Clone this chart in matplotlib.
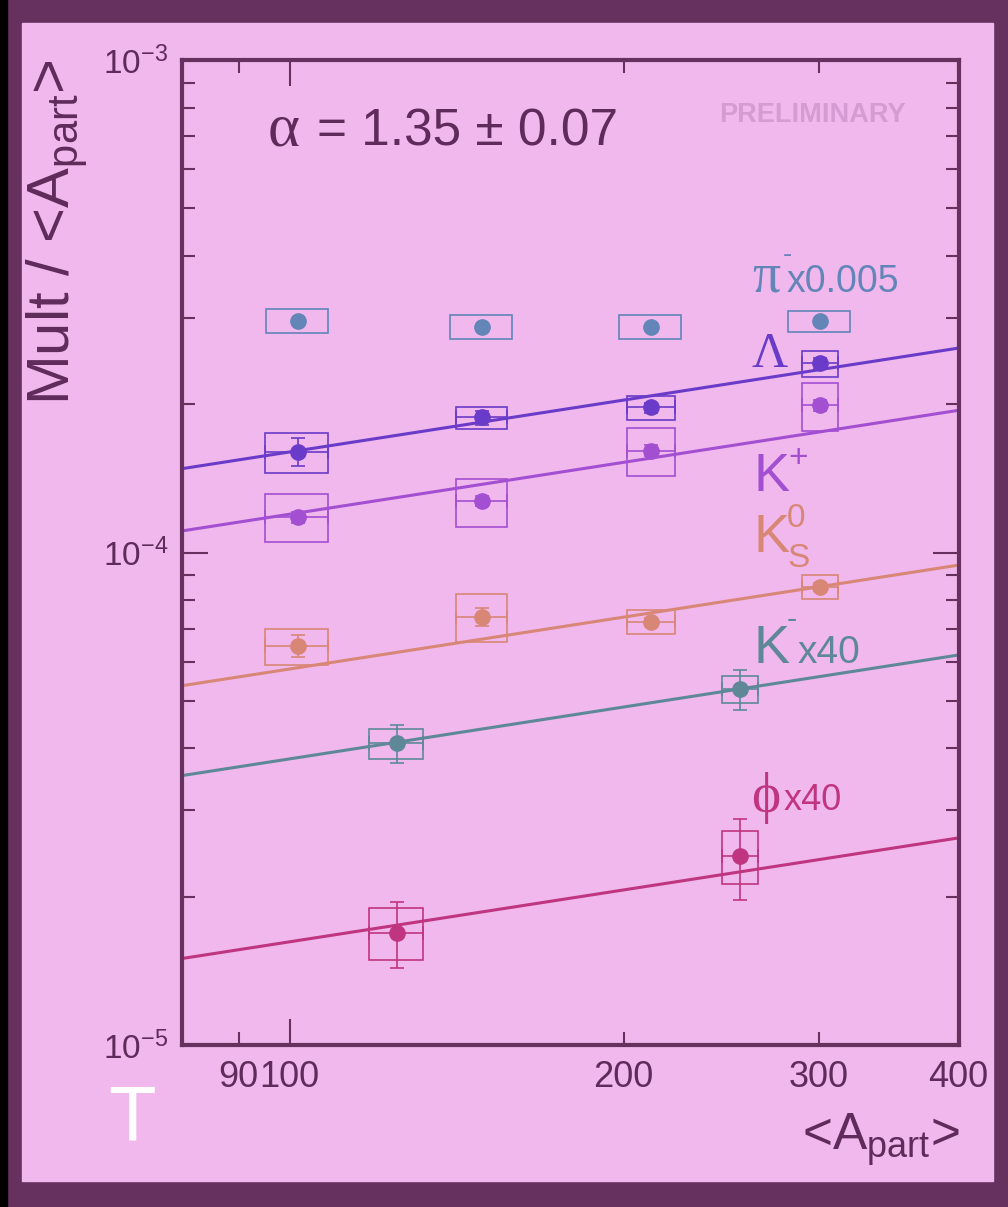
import matplotlib
matplotlib.use("Agg")
import matplotlib.pyplot as plt
from matplotlib.patches import Rectangle
import numpy as np

plt.rcParams['font.family'] = ['Liberation Sans', 'DejaVu Sans']
plt.rcParams['mathtext.default'] = 'regular'

# centrality points (A_part) and their uncertainty
apart4 = [101.7, 149.1, 211.8, 300.6]
apart4_err = [6.6, 8.0, 10.5, 11.2]
apart2 = [125.0, 254.8]
apart2_err = [7.0, 9.5]

# multiplicity / <A_part>
pim = [2.95e-4, 2.87e-4, 2.87e-4, 2.95e-4]
pim_stat = [3e-6, 3e-6, 3e-6, 3e-6]
pim_sys = [1.65e-5, 1.6e-5, 1.6e-5, 1.5e-5]

lam = [1.60e-4, 1.88e-4, 1.97e-4, 2.42e-4]
lam_stat = [1.05e-5, 6.1e-6, 4.6e-6, 5.7e-6]
lam_sys = [1.5e-5, 9.7e-6, 1.1e-5, 1.47e-5]

kp = [1.18e-4, 1.27e-4, 1.61e-4, 1.99e-4]
kp_stat = [3e-6, 3e-6, 4e-6, 5e-6]
kp_sys = [1.32e-5, 1.42e-5, 1.8e-5, 2.23e-5]

k0s = [6.46e-5, 7.40e-5, 7.23e-5, 8.51e-5]
k0s_stat = [3.3e-6, 3.1e-6, 1.4e-6, 1.6e-6]
k0s_sys = [5.4e-6, 8.3e-6, 4.1e-6, 4.8e-6]

km = [4.10e-5, 5.28e-5]
km_stat = [3.6e-6, 4.9e-6]
km_sys = [2.9e-6, 3.3e-6]

phi = [1.69e-5, 2.42e-5]
phi_stat = [2.6e-6, 4.5e-6]
phi_sys = [2.05e-6, 2.94e-6]

# power law fits: N * (A/100)^(alpha-1)
alpha = 1.35
fit_norm = {'lam': 1.60e-4, 'kp': 1.196e-4, 'k0s': 5.80e-5, 'km': 3.81e-5, 'phi': 1.62e-5}

W, H = 1008, 1207
dark = '#66305f'
pink = '#f0b8ec'
txt = '#5e2b5a'

fig = plt.figure(figsize=(W / 100, H / 100), dpi=100, facecolor=dark)
fig.patches.append(Rectangle((0, 0), 7 / W, 1, transform=fig.transFigure, color='black', zorder=-10))
fig.patches.append(Rectangle((22 / W, 1 - 1181 / H), (993 - 22) / W, (1181 - 23) / H,
                             transform=fig.transFigure, color=pink, zorder=-10))

ax = fig.add_axes([182 / W, 1 - 1045 / H, (959 - 182) / W, (1045 - 60) / H])
ax.set_zorder(1)
ax.set_facecolor(pink)
ax.set_xscale('log')
ax.set_yscale('log')
ax.set_xlim(80, 401)
ax.set_ylim(1e-5, 1e-3)

def draw(x, y, xerr, stat, sys, col, fitkey=None):
    for xi, yi, xe, se in zip(x, y, xerr, sys):
        if xe == 0:
            xe = xi * 0.064
        ax.add_patch(Rectangle((xi - xe, yi - se), 2 * xe, 2 * se, fill=False,
                               edgecolor=col, lw=1.2, zorder=3))
    ax.errorbar(x, y, xerr=xerr, yerr=stat, fmt='o', color=col, ms=11, elinewidth=1.2,
                capsize=5, capthick=1.2, zorder=4)
    if fitkey:
        xx = np.array([80, 401])
        ax.plot(xx, fit_norm[fitkey] * (xx / 100) ** (alpha - 1), color=col, lw=2.2, zorder=2)

c_pi = '#6385b8'
c_lam = '#6a3bc8'
c_kp = '#a24fd2'
c_k0 = '#d88676'
c_km = '#5e8898'
c_phi = '#c0357f'

draw(apart4, pim, [0] * 4, pim_stat, pim_sys, c_pi)
draw(apart4, lam, apart4_err, lam_stat, lam_sys, c_lam, 'lam')
draw(apart4, kp, apart4_err, kp_stat, kp_sys, c_kp, 'kp')
draw(apart4, k0s, apart4_err, k0s_stat, k0s_sys, c_k0, 'k0s')
draw(apart2, km, apart2_err, km_stat, km_sys, c_km, 'km')
draw(apart2, phi, apart2_err, phi_stat, phi_sys, c_phi, 'phi')

# axes styling
for s in ax.spines.values():
    s.set_color(dark)
    s.set_linewidth(3)
ax.set_xticks([100])
ax.set_xticklabels(['100'])
ax.set_xticks([90, 200, 300, 400], minor=True)
ax.set_xticklabels(['90', '200', '300', '400'], minor=True)
ax.set_yticks([1e-5, 1e-4, 1e-3])
ax.set_yticklabels([r'$10^{-5}$', r'$10^{-4}$', r'$10^{-3}$'])
ax.set_yticks([m * 10.0 ** e for e in (-5, -4) for m in range(2, 10)], minor=True)
ax.set_yticklabels([], minor=True)
ax.tick_params(which='both', direction='in', top=True, right=True, color=dark, width=1.5,
               labelcolor=txt)
ax.tick_params(which='major', length=19)
ax.tick_params(which='minor', length=9.5)
ax.tick_params(axis='x', which='both', labelsize=26, pad=11)
ax.tick_params(axis='y', which='both', labelsize=24, pad=10)

def ftext(px, py, s, **kw):
    return fig.text(px / W, 1 - py / H, s, zorder=5, **kw)

ftext(70, 232, r'Mult / <A$_{part}$>', rotation=90, rotation_mode='anchor', ha='center',
      va='baseline', fontsize=43, color=txt)
ftext(960, 1150, r'<A$_{part}$>', ha='right', va='baseline', fontsize=37, color=txt)
ftext(268, 145, 'α', family=['Liberation Serif', 'DejaVu Serif'], fontsize=44, color=txt,
      va='baseline')
ftext(317, 145, '= 1.35 ± 0.07', fontsize=37, color=txt, va='baseline')
ftext(719, 115, 'PRELIMINARY', fontsize=19.5, weight='bold', color='#d59bd3', va='center')
ftext(108, 1140, 'T', fontsize=56, color='white', va='baseline')

ftext(752, 292, 'π', family=['Liberation Serif', 'DejaVu Serif'], fontsize=40, color=c_pi,
      va='baseline')
ftext(783, 262, '-', fontsize=20, color=c_pi, va='baseline')
ftext(787, 292, 'x0.005', fontsize=27, color=c_pi, va='baseline')
ftext(752, 367, 'Λ', family=['Liberation Serif', 'DejaVu Serif'], fontsize=36, color=c_lam,
      va='baseline')
ftext(753, 491, 'K', fontsize=39, color=c_kp, va='baseline')
ftext(788, 467, '+', fontsize=24, color=c_kp, va='baseline')
ftext(753, 552, 'K', fontsize=39, color=c_k0, va='baseline')
ftext(787, 527, '0', fontsize=24, color=c_k0, va='baseline')
ftext(787, 567, 'S', fontsize=24, color=c_k0, va='baseline')
ftext(753, 663, 'K', fontsize=39, color=c_km, va='baseline')
ftext(787, 628, '-', fontsize=22, color=c_km, va='baseline')
ftext(798, 663, 'x40', fontsize=28, color=c_km, va='baseline')
ftext(751, 812, 'ϕ', family=['Liberation Serif', 'DejaVu Serif'], fontsize=40, color=c_phi,
      va='baseline')
ftext(784, 810, 'x40', fontsize=26, color=c_phi, va='baseline')

fig.savefig('out.png', dpi=100, facecolor=dark)
